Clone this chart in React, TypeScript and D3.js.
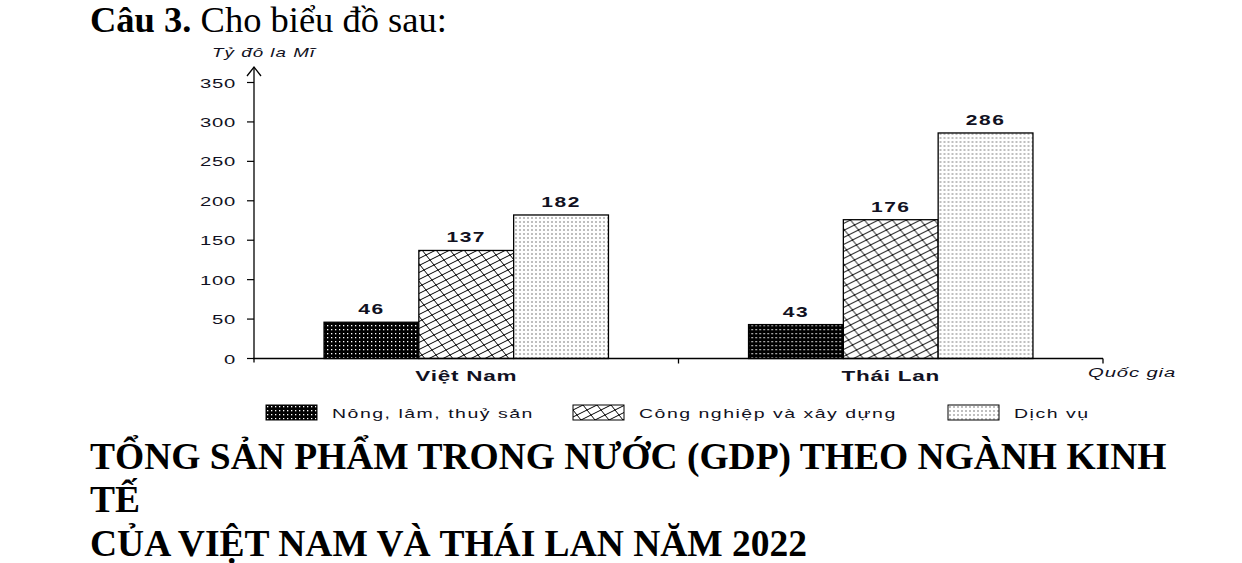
import { useEffect } from "react";
import * as d3 from "d3";

// categories and series
const countries = ["Việt Nam", "Thái Lan"];
const sectors = ["Nông, lâm, thuỷ sản", "Công nghiệp và xây dựng", "Dịch vụ"];
const nongLam = [46, 43];
const congNghiep = [137, 176];
const dichVu = [182, 286];
const yTicks = [0, 50, 100, 150, 200, 250, 300, 350];
const patterns = ["pat-dark", "pat-weave", "pat-dots"];

const W = 1242;
const H = 563;
const plot = { left: 254, right: 1103, top: 67, bottom: 358.5 };
const ink = "#111122";
const sx = 1.5; // the original chart is stretched horizontally

// zigzag weave: rows of long up / short down strokes, each row shifted so they meet
const weavePath = (() => {
  const p = d3.path();
  for (let r = 0; r < 7; r++) {
    const y0 = r * 5;
    const peak = (10 + 4 * r) % 14;
    for (let k = -1; k <= 2; k++) {
      const px = peak + 14 * k;
      p.moveTo(px - 10, y0 + 5);
      p.lineTo(px, y0);
      p.lineTo(px + 4, y0 + 5);
    }
  }
  return p.toString();
})();

// text drawn with a horizontal stretch, x is the anchor point
const Stretch = ({
  x,
  y,
  anchor = "start",
  size,
  weight = "normal",
  italic = false,
  spacing = 0,
  children,
}: {
  x: number;
  y: number;
  anchor?: string;
  size: number;
  weight?: string;
  italic?: boolean;
  spacing?: number;
  children: string;
}) => (
  <text
    transform={`translate(${x},${y}) scale(${sx},1)`}
    textAnchor={anchor}
    fontFamily="'Liberation Sans', Arial, sans-serif"
    fontSize={size}
    fontWeight={weight}
    fontStyle={italic ? "italic" : "normal"}
    letterSpacing={spacing}
    fill={ink}
  >
    {children}
  </text>
);

const App = () => {
  useEffect(() => {
    document.body.style.margin = "0";
  }, []);

  const series = [nongLam, congNghiep, dichVu];

  const x0 = d3
    .scaleBand<string>()
    .domain(countries)
    .range([plot.left, plot.right])
    .padding(0);
  const bw = x0.bandwidth();
  const x1 = d3
    .scaleBand<string>()
    .domain(sectors)
    .range([bw * 0.165, bw * 0.835]);
  const y = d3.scaleLinear().domain([0, 350]).range([plot.bottom, 82.5]);

  const legendX = [266, 573, 948];

  return (
    <svg width={W} height={H} style={{ display: "block", background: "#fff" }}>
      <defs>
        <pattern id="pat-dark" width="4" height="4" patternUnits="userSpaceOnUse">
          <rect width="4" height="4" fill="#000" />
          <rect x="1" y="1" width="1.3" height="1.3" fill="#fff" />
        </pattern>
        <pattern id="pat-weave" width="14" height="35" patternUnits="userSpaceOnUse">
          <rect width="14" height="35" fill="#fff" />
          <path d={weavePath} fill="none" stroke="#000" strokeWidth="1" />
        </pattern>
        <pattern id="pat-dots" width="4" height="4" patternUnits="userSpaceOnUse">
          <rect width="4" height="4" fill="#fff" />
          <rect x="1.5" y="1.5" width="1" height="1" fill="#000" />
        </pattern>
      </defs>

      {/* heading */}
      <text x={90} y={32} fontFamily="'Liberation Serif', 'Times New Roman', serif" fontSize={36.5} fill="#000">
        <tspan fontWeight="bold">Câu 3.</tspan> Cho biểu đồ sau:
      </text>

      {/* bars */}
      {countries.map((c, ci) => (
        <g key={c} transform={`translate(${x0(c)},0)`}>
          {sectors.map((s, si) => {
            const v = series[si][ci];
            return (
              <g key={s}>
                <rect
                  x={x1(s)}
                  y={y(v)}
                  width={x1.bandwidth()}
                  height={y(0) - y(v)}
                  fill={`url(#${patterns[si]})`}
                  stroke="#000"
                  strokeWidth={1.3}
                />
                <Stretch
                  x={(x1(s) as number) + x1.bandwidth() / 2}
                  y={y(v) - 8}
                  anchor="middle"
                  size={14}
                  weight="bold"
                  spacing={1}
                >
                  {String(v)}
                </Stretch>
              </g>
            );
          })}
        </g>
      ))}

      {/* y axis */}
      <line x1={plot.left} x2={plot.left} y1={plot.bottom + 4} y2={plot.top} stroke="#000" strokeWidth={1.3} />
      <path
        d={`M${plot.left - 7},${plot.top + 9} L${plot.left},${plot.top} L${plot.left + 7},${plot.top + 9}`}
        fill="none"
        stroke="#000"
        strokeWidth={1.3}
      />
      {yTicks.map((t) => (
        <g key={t}>
          <line x1={plot.left - 7} x2={plot.left} y1={y(t)} y2={y(t)} stroke="#000" strokeWidth={1.2} />
          <Stretch x={236} y={y(t) + 5} anchor="end" size={13.5} spacing={0.5}>
            {String(t)}
          </Stretch>
        </g>
      ))}
      <Stretch x={212} y={57} size={12.5} italic spacing={0.7}>
        Tỷ đô la Mĩ
      </Stretch>

      {/* x axis */}
      <line x1={plot.left - 1} x2={plot.right} y1={plot.bottom} y2={plot.bottom} stroke="#000" strokeWidth={1.3} />
      {[...countries.map((c) => x0(c) as number).slice(1), plot.right].map((t) => (
        <line key={t} x1={t} x2={t} y1={plot.bottom} y2={plot.bottom + 5} stroke="#000" strokeWidth={1.3} />
      ))}
      {countries.map((c) => (
        <Stretch key={c} x={(x0(c) as number) + bw / 2} y={381} anchor="middle" size={15} weight="bold" spacing={0.5}>
          {c}
        </Stretch>
      ))}
      <Stretch x={1088} y={377} size={13.5} italic spacing={0.6}>
        Quốc gia
      </Stretch>

      {/* legend */}
      {sectors.map((s, i) => (
        <g key={s} transform={`translate(${legendX[i]},405)`}>
          <rect width={51} height={15} fill={`url(#${patterns[i]})`} stroke="#000" strokeWidth={1} />
          <Stretch x={66} y={13} size={13} spacing={1}>
            {s}
          </Stretch>
        </g>
      ))}

      {/* title */}
      <g fontFamily="'Liberation Serif', 'Times New Roman', serif" fontWeight="bold" fontSize={37.5} fill="#000">
        <text x={90} y={469}>TỔNG SẢN PHẨM TRONG NƯỚC (GDP) THEO NGÀNH KINH</text>
        <text x={90} y={512}>TẾ</text>
        <text x={90} y={556}>CỦA VIỆT NAM VÀ THÁI LAN NĂM 2022</text>
      </g>
    </svg>
  );
};

export default App;
